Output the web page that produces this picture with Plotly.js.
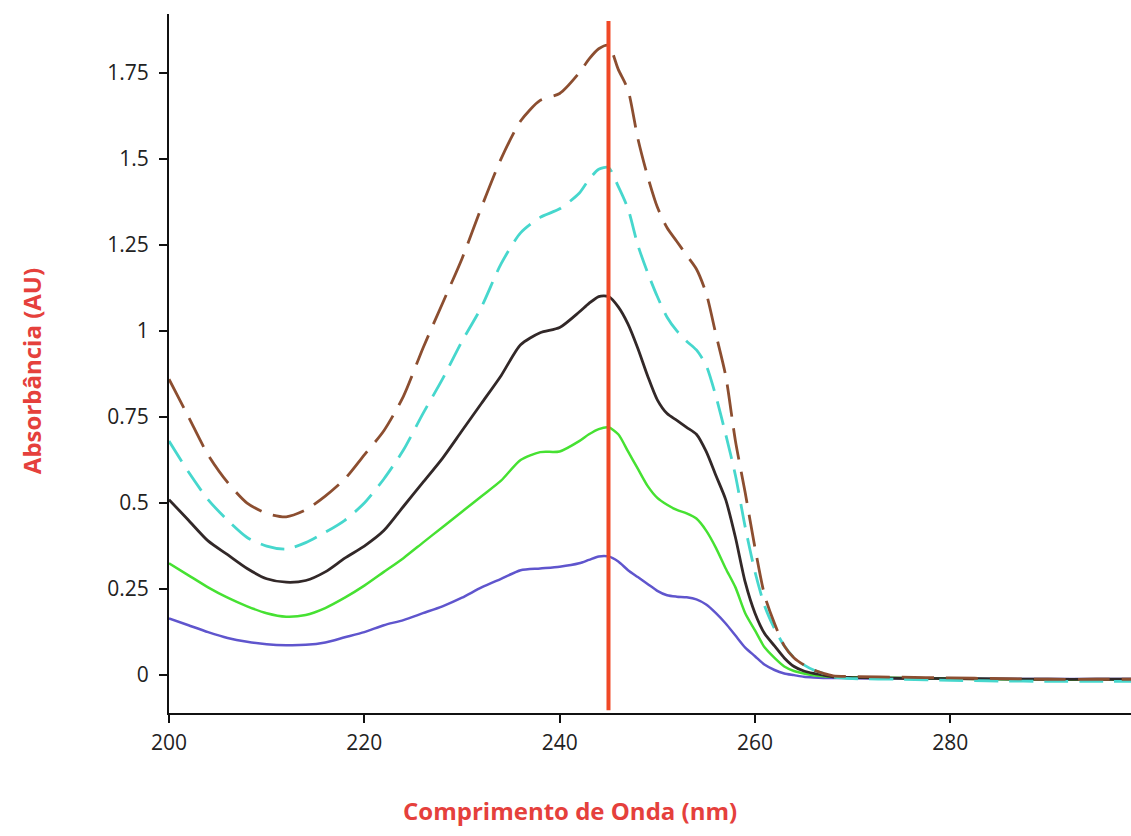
<!DOCTYPE html>
<html>
<head>
<meta charset="utf-8">
<script src="https://cdn.plot.ly/plotly-3.0.1.min.js"></script>
<style>
  html, body { margin: 0; padding: 0; background: #ffffff; }
  #chart { width: 1131px; height: 836px; }
</style>
</head>
<body>
<div id="chart"></div>
<script>
// Wavelength (nm)
var wavelength = [200,202,204,206,208,210,212,214,216,218,220,222,224,226,228,230,232,234,236,238,240,
  242,243,244,245,246,247,248,249,250,251,252,253,254,255,256,257,258,259,260,261,262,263,264,265,266,267,268,
  270,275,280,285,290,295,299];

// Absorbance series (AU)
var absBrown = [0.86,0.75,0.64,0.56,0.50,0.47,0.46,0.48,0.52,0.57,0.64,0.71,0.81,0.95,1.08,1.21,1.36,1.50,1.61,1.67,1.69,
  1.75,1.79,1.82,1.83,1.76,1.70,1.56,1.45,1.36,1.30,1.26,1.22,1.18,1.11,0.99,0.87,0.68,0.53,0.37,0.23,0.15,0.085,0.05,0.03,0.015,0.005,-0.002,
  -0.004,-0.006,-0.008,-0.010,-0.012,-0.012,-0.012];
var absCyan = [0.68,0.59,0.51,0.45,0.40,0.375,0.366,0.385,0.415,0.45,0.50,0.57,0.654,0.76,0.86,0.97,1.07,1.195,1.285,1.33,1.355,
  1.40,1.44,1.47,1.475,1.42,1.355,1.25,1.17,1.10,1.04,1.00,0.97,0.945,0.90,0.81,0.70,0.58,0.43,0.30,0.20,0.135,0.085,0.05,0.03,0.015,0.005,-0.005,
  -0.010,-0.012,-0.015,-0.017,-0.018,-0.018,-0.018];
var absDark = [0.51,0.45,0.39,0.35,0.31,0.28,0.27,0.275,0.30,0.34,0.375,0.42,0.49,0.56,0.63,0.71,0.79,0.87,0.96,0.995,1.01,
  1.055,1.08,1.10,1.10,1.07,1.02,0.95,0.87,0.80,0.76,0.74,0.72,0.70,0.65,0.58,0.51,0.40,0.27,0.18,0.12,0.085,0.05,0.025,0.012,0.005,0,-0.005,
  -0.007,-0.009,-0.010,-0.011,-0.012,-0.012,-0.012];
var absGreen = [0.325,0.29,0.255,0.225,0.20,0.18,0.17,0.175,0.195,0.225,0.26,0.30,0.34,0.385,0.43,0.475,0.52,0.565,0.625,0.648,0.65,
  0.68,0.70,0.715,0.72,0.70,0.65,0.60,0.55,0.515,0.495,0.48,0.47,0.455,0.42,0.37,0.31,0.255,0.18,0.13,0.08,0.05,0.025,0.012,0.005,0,-0.003,-0.005,
  -0.006,-0.008,-0.010,-0.012,-0.013,-0.013,-0.013];
var absBlue = [0.165,0.145,0.125,0.108,0.097,0.09,0.087,0.088,0.095,0.11,0.125,0.145,0.16,0.18,0.20,0.225,0.255,0.28,0.305,0.31,0.315,
  0.325,0.335,0.345,0.345,0.33,0.305,0.285,0.265,0.245,0.232,0.228,0.226,0.22,0.205,0.18,0.15,0.115,0.08,0.055,0.03,0.015,0.005,0,-0.005,-0.007,-0.008,-0.008,
  -0.009,-0.010,-0.010,-0.011,-0.011,-0.011,-0.011];

// Marker wavelength (vertical red line)
var markerWavelength = [245];

// Tick labels
var xTickVals = [200,220,240,260,280];
var xTickText = ['200','220','240','260','280'];
var yTickVals = [0,0.25,0.5,0.75,1,1.25,1.5,1.75];
var yTickText = ['0','0.25','0.5','0.75','1','1.25','1.5','1.75'];

var xTitle = 'Comprimento de Onda (nm)';
var yTitle = 'Absorbância (AU)';

function mk(y, color, dash, width) {
  return {
    x: wavelength, y: y, type: 'scatter', mode: 'lines',
    line: {color: color, width: width, dash: dash, shape: 'spline', smoothing: 0.7},
    hoverinfo: 'x+y', showlegend: false
  };
}

var traces = [
  mk(absBlue,  'rgb(95,85,205)', 'solid', 2.5),
  mk(absGreen, 'rgb(70,225,50)', 'solid', 2.5),
  mk(absDark,  'rgb(50,40,40)',  'solid', 2.8),
  mk(absCyan,  'rgb(70,215,205)', '24px,11px', 2.8),
  mk(absBrown, 'rgb(140,78,48)', '32px,12px', 2.8)
];

var titleColor = '#e5403c';
var tickFont = {family: 'Open Sans, sans-serif', size: 21, color: '#222'};
var layout = {
  width: 1131, height: 836,
  margin: {l: 169, r: 0, t: 14, b: 123},
  paper_bgcolor: '#ffffff', plot_bgcolor: '#ffffff',
  showlegend: false,
  xaxis: {
    range: [200, 298.5], tickvals: xTickVals, ticktext: xTickText,
    showgrid: false, zeroline: false, showline: true, linecolor: '#111', linewidth: 2,
    ticks: 'outside', ticklen: 8, tickwidth: 2, tickcolor: '#111',
    ticklabelstandoff: 2,
    tickfont: tickFont
  },
  yaxis: {
    range: [-0.11, 1.921], tickvals: yTickVals, ticktext: yTickText,
    showgrid: false, zeroline: false, showline: true, linecolor: '#111', linewidth: 2,
    ticks: 'outside', ticklen: 8, tickwidth: 2, tickcolor: '#111',
    ticklabelstandoff: 6,
    tickfont: tickFont
  },
  shapes: markerWavelength.map(function (w) {
    return {type: 'line', xref: 'x', yref: 'paper', x0: w, x1: w, y0: 0.004, y1: 0.99,
      line: {color: 'rgb(240,72,38)', width: 4}, layer: 'above'};
  }),
  annotations: [
    {text: '<b>' + xTitle + '</b>', xref: 'paper', yref: 'paper', x: 0.417, y: -0.139,
     xanchor: 'center', yanchor: 'middle', showarrow: false,
     font: {family: 'Open Sans, sans-serif', size: 24, color: titleColor}},
    {text: '<b>' + yTitle + '</b>', xref: 'paper', yref: 'paper', x: -0.1435, y: 0.489,
     xanchor: 'center', yanchor: 'middle', showarrow: false, textangle: -90,
     font: {family: 'Open Sans, sans-serif', size: 24, color: titleColor}}
  ]
};

Plotly.newPlot('chart', traces, layout, {displayModeBar: false, staticPlot: true});
</script>
</body>
</html>
